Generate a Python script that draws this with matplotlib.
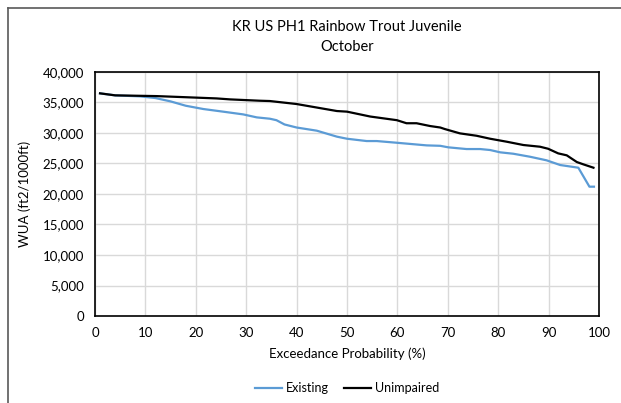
import matplotlib
matplotlib.use("Agg")
import matplotlib.pyplot as plt
from matplotlib.lines import Line2D
from matplotlib.ticker import FuncFormatter, MultipleLocator

# Data
existing_x = [1, 4, 9, 12, 15, 18, 21.5, 25.5, 29.4, 32.1, 34.7, 36, 37.6, 40, 44, 48, 50,
              53.9, 55.9, 59.9, 65.8, 68.5, 70.1, 73.7, 76.4, 78.4, 80.4, 83, 86.3,
              89.6, 92.3, 95.9, 98.1, 99]
existing_y = [36500, 36170, 36000, 35730, 35180, 34470, 33930, 33490, 33050, 32560, 32340,
              32100, 31400, 30900, 30380, 29400, 29060, 28680, 28680, 28400, 27970, 27900,
              27650, 27370, 27370, 27210, 26830, 26600, 26110, 25520, 24750, 24310,
              21200, 21200]

unimpaired_x = [1, 4, 12.2, 18.8, 24.1, 26.8, 32.7, 34.7, 40, 48, 50, 54.6, 59.9, 61.8,
                63.8, 66.5, 68.5, 69.4, 72.4, 75.7, 78.4, 81.7, 85, 88.3, 89.9, 91.9,
                93.6, 95.6, 96.9, 98.9]
unimpaired_y = [36500, 36170, 36050, 35840, 35670, 35510, 35290, 35240, 34750, 33600,
                33500, 32700, 32100, 31600, 31600, 31140, 30900, 30650, 29940, 29550,
                29060, 28570, 28030, 27750, 27420, 26660, 26340, 25240, 24860, 24310]

title = "KR US PH1 Rainbow Trout Juvenile\nOctober"
xlabel = "Exceedance Probability (%)"
ylabel = "WUA (ft2/1000ft)"
series_names = ["Existing", "Unimpaired"]

plt.rcParams['font.family'] = ['Lato', 'DejaVu Sans']

W, H = 621, 403
fig = plt.figure(figsize=(W / 100, H / 100), dpi=100)
ax = fig.add_axes([95 / W, 1 - 316 / H, (599 - 95) / W, (316 - 72) / H])

ax.plot(existing_x, existing_y, color="#5B9BD5", lw=1.6, label=series_names[0])
ax.plot(unimpaired_x, unimpaired_y, color="black", lw=1.6, label=series_names[1])

ax.set_xlim(0, 100)
ax.set_ylim(0, 40000)
ax.xaxis.set_major_locator(MultipleLocator(10))
ax.yaxis.set_major_locator(MultipleLocator(5000))
ax.yaxis.set_major_formatter(FuncFormatter(lambda v, p: f"{int(v):,}"))
ax.grid(True, color="#D9D9D9", lw=1)
ax.set_axisbelow(True)
for s in ax.spines.values():
    s.set_color("black")
    s.set_linewidth(1.2)
ax.tick_params(length=0, labelsize=9.5, pad=8)

ax.set_xlabel(xlabel, fontsize=9.5, labelpad=6)
ax.set_ylabel(ylabel, fontsize=9.5, labelpad=8)
fig.text(347 / W, 1 - 37 / H, title, ha="center", va="center", fontsize=10.5,
         linespacing=1.5)

leg = fig.legend(loc="center", bbox_to_anchor=(347 / W, 1 - 388 / H), ncol=2,
                 frameon=False, fontsize=9, handlelength=2.2, handletextpad=0.3,
                 columnspacing=1.2)

# outer chart frame (partially visible)
fig.add_artist(Line2D([8 / W, 8 / W], [0, 1 - 8 / H], color="#595959", lw=1.2,
                      transform=fig.transFigure))
fig.add_artist(Line2D([8 / W, 1], [1 - 8 / H, 1 - 8 / H], color="#595959", lw=1.2,
                      transform=fig.transFigure))

fig.savefig("out.png", dpi=100)
